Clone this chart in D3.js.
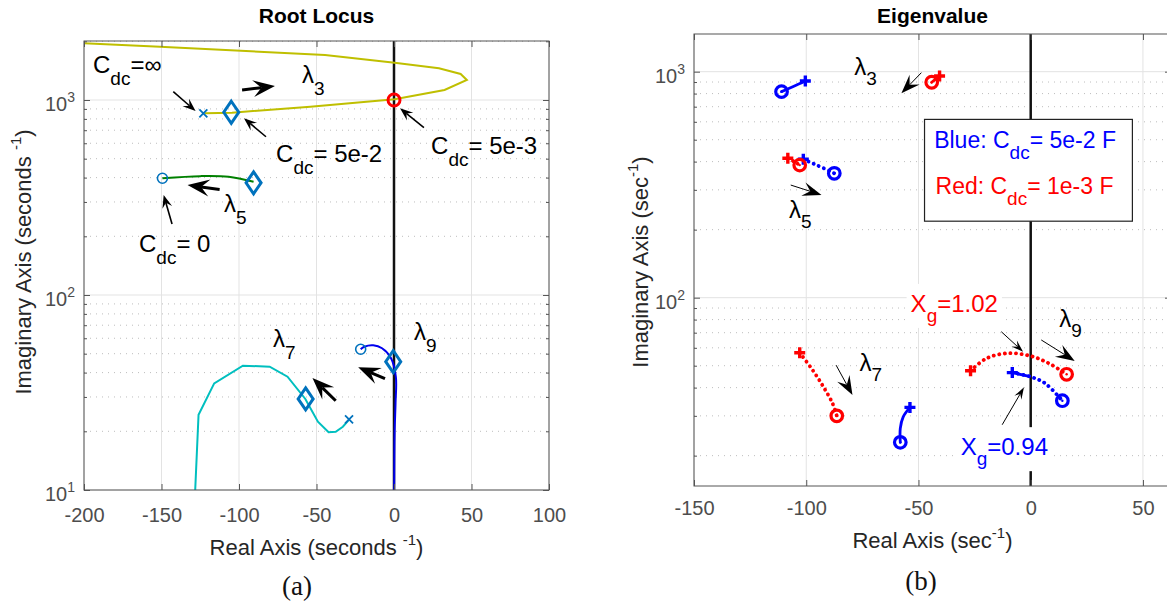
<!doctype html>
<html>
<head>
<meta charset="utf-8">
<script src="https://cdn.jsdelivr.net/npm/d3@7"></script>
<style>
body { margin: 0; background: #fff; }
svg text { white-space: pre; }
</style>
</head>
<body>
<script>

// ---------- panel (a): root locus, points are [real, imag]
var xTicksA = [-200, -150, -100, -50, 0, 50, 100];
var yDecadesA = [10, 100, 1000];
var locus3 = [[-200, 1954], [-151, 1876], [-44.5, 1702], [0.4, 1553], [29, 1453], [43, 1360], [47, 1267],
              [32.6, 1125], [0.4, 1008], [-54, 924], [-104.5, 861], [-122, 855]];
var locus5 = [[-149.4, 397], [-125, 407], [-106.7, 404], [-90.6, 381]];
var locus7 = [[-128.8, 8], [-126.1, 24.3], [-116, 35.2], [-97.5, 43.4], [-80.2, 42.9], [-68.7, 38.1],
              [-57.2, 29.3], [-49.1, 22.4], [-42.2, 19.8], [-37.6, 19.9], [-33, 21.1], [-29.1, 22.9]];
var locus9 = [[-21.5, 52.7], [-19.1, 54.3], [-13.4, 55.2], [-7.7, 53.3], [-1.9, 47.4], [1.2, 38],
              [1.0, 28], [0.4, 19.6], [0.1, 8]];
var polesA = [[-123, 855], [-29, 23]];            // x markers
var zerosA = [[-149.4, 397], [-21.5, 52.7]];      // o markers
var designA = [[-105, 865], [-90.6, 376], [-57, 29.3], [-0.5, 45.5]];  // diamonds
var critA = [[0, 1000]];                          // red circle
var arrowsA = [
  {from: [-142.4, 1103], to: [-128, 878], big: false},
  {from: [-98, 1125], to: [-76.8, 1180], big: true},
  {from: [-82.6, 648], to: [-96.8, 806], big: false},
  {from: [19.3, 721], to: [3.9, 906], big: false},
  {from: [-112.5, 348], to: [-133.2, 366], big: true},
  {from: [-143.2, 231], to: [-148.6, 326], big: false},
  {from: [-37.6, 28.7], to: [-52.6, 37.5], big: true},
  {from: [-5.8, 37.2], to: [-23.1, 42.6], big: true}
];
var labelsA = [
  {at: [-194.2, 1375], parts: [["C", 0], ["dc", -1], ["=\u221e", 0]]},
  {at: [-59.4, 1222], parts: [["\u03bb", 0], ["3", -1]]},
  {at: [-76.1, 481], parts: [["C", 0], ["dc", -1], ["= 5e-2", 0]]},
  {at: [23.9, 528], parts: [["C", 0], ["dc", -1], ["= 5e-3", 0]]},
  {at: [-109.7, 267], parts: [["\u03bb", 0], ["5", -1]]},
  {at: [-164.5, 166], parts: [["C", 0], ["dc", -1], ["= 0", 0]]},
  {at: [-78.1, 54], parts: [["\u03bb", 0], ["7", -1]]},
  {at: [12.9, 58.7], parts: [["\u03bb", 0], ["9", -1]]}
];

// ---------- panel (b): eigenvalues, each branch goes from + to o
var xTicksB = [-150, -100, -50, 0, 50];
var yDecadesB = [100, 1000];
var blue3 = [[-100.4, 910], [-105.5, 862], [-111, 816]];
var red3 = [[-40.6, 957], [-42.5, 925], [-44.1, 898]];
var blue5 = [[-101.3, 410], [-95, 385], [-87.5, 355]];
var red5 = [[-108.2, 414], [-105, 398], [-102.9, 386]];
var blue7 = [[-53.8, 32.7], [-56.8, 29.7], [-58.1, 26.4], [-58.1, 22.9]];
var red7 = [[-102.9, 57.1], [-97.2, 47.9], [-92.4, 40.4], [-88.3, 34.1], [-86.4, 30]];
var blue9 = [[-8.2, 46.6], [-0.1, 44.7], [6.4, 41.8], [14.1, 35]];
var red9 = [[-26.8, 47.5], [-19.5, 54], [-9.8, 56.8], [-0.1, 55.2], [8, 51.3], [16, 45.8]];
var arrowsB = [
  {from: [-48.7, 990], to: [-57.6, 802], size: "mid"},
  {from: [-106.9, 315], to: [-93.2, 285], size: "mid"},
  {from: [-86.7, 50.3], to: [-79.4, 37.1], size: "mid"},
  {from: [-13.1, 70.7], to: [-3.4, 57.7], size: "small"},
  {from: [4.7, 65], to: [19.6, 52.5], size: "mid"},
  {from: [-12.7, 27.4], to: [-3, 40.1], size: "small"}
];
var labelsB = [
  {at: [-78.6, 967], parts: [["\u03bb", 0], ["3", -1]], color: "#000"},
  {at: [-107.7, 225], parts: [["\u03bb", 0], ["5", -1]], color: "#000"},
  {at: [-76.3, 47.4], parts: [["\u03bb", 0], ["7", -1]], color: "#000"},
  {at: [12.7, 74.1], parts: [["\u03bb", 0], ["9", -1]], color: "#000"},
  {at: [-53.5, 86.5], parts: [["X", 0], ["g", -1], ["=1.02", 0]], color: "#ff0000", box: true},
  {at: [-31.2, 20.1], parts: [["X", 0], ["g", -1], ["=0.94", 0]], color: "#0000ff", box: true}
];
var legendBox = [[-47.3, 615], [45.3, 218]];
var legendLines = [
  {at: [-43, 459], parts: [["Blue: C", 0], ["dc", -1], ["= 5e-2 F", 0]], color: "#0000ff"},
  {at: [-42.4, 287], parts: [["Red: C", 0], ["dc", -1], ["= 1e-3 F", 0]], color: "#ff0000"}
];

// ---------- page
var W = 1167, H = 605;
var svg = d3.select("body").append("svg")
  .attr("width", W).attr("height", H)
  .style("font-family", '"Liberation Sans", Arial, Helvetica, sans-serif');

var pA = {name: "a", left: 84, right: 549, top: 41, bottom: 490, xdom: [-200, 100], ydom: [10, 2007],
          xticks: xTicksA, decades: yDecadesA, title: "Root Locus", unit: "seconds ", tickBase: 32,
          xlabY: 555, ylabX: 31, capX: 297, capY: 595, cap: "(a)"};
var pB = {name: "b", left: 694, right: 1171, top: 34, bottom: 486, xdom: [-150, 62.5], ydom: [14.68, 1468],
          xticks: xTicksB, decades: yDecadesB, title: "Eigenvalue", unit: "sec", tickBase: 29,
          xlabY: 548, ylabX: 648, capX: 921, capY: 590, cap: "(b)"};

// tex-like text: parts = [[string, 0 normal | -1 subscript | 1 superscript]]
function tex(g, x, y, parts, o) {
  var t = g.append("text").attr("x", x).attr("y", y)
    .attr("font-size", o.size).attr("fill", o.color || "#000");
  if (o.anchor) t.attr("text-anchor", o.anchor);
  if (o.weight) t.attr("font-weight", o.weight);
  var cur = 0;
  parts.forEach(function(p) {
    var shift = p[1] == -1 ? o.sub : p[1] == 1 ? -o.sup : 0;
    t.append("tspan").attr("dy", shift - cur)
      .attr("font-size", p[1] ? o.small : o.size).text(p[0]);
    cur = shift;
  });
  return t;
}

function arrow(g, x0, y0, x1, y1, s) {
  var dx = x1 - x0, dy = y1 - y0, len = Math.hypot(dx, dy);
  var ux = dx / len, uy = dy / len, nx = -uy, ny = ux;
  var bx = x1 - ux * s.hl, by = y1 - uy * s.hl;
  var mx = x1 - ux * s.hl * 0.62, my = y1 - uy * s.hl * 0.62;
  g.append("line").attr("x1", x0).attr("y1", y0).attr("x2", mx).attr("y2", my)
    .attr("stroke", "#000").attr("stroke-width", s.lw);
  g.append("path")
    .attr("d", "M" + x1 + "," + y1 + "L" + (bx + nx * s.hw / 2) + "," + (by + ny * s.hw / 2) +
               "L" + mx + "," + my + "L" + (bx - nx * s.hw / 2) + "," + (by - ny * s.hw / 2) + "Z")
    .attr("fill", "#000");
}

function setup(p) {
  p.x = d3.scaleLinear().domain(p.xdom).range([p.left, p.right]);
  p.y = d3.scaleLog().domain(p.ydom).range([p.bottom, p.top]);
  p.g = svg.append("g");
  svg.append("clipPath").attr("id", "clip" + p.name).append("rect")
    .attr("x", p.left).attr("y", p.top).attr("width", p.right - p.left).attr("height", p.bottom - p.top);
  p.minor = p.y.ticks().filter(function(v) {
    return p.decades.indexOf(v) < 0 && v > p.ydom[0] && v < p.ydom[1];
  });

  var grid = p.g.append("g");
  grid.selectAll(".vg").data(p.xticks).join("line")
    .attr("x1", d => p.x(d)).attr("x2", d => p.x(d)).attr("y1", p.top).attr("y2", p.bottom)
    .attr("stroke", "#e3e3e3").attr("stroke-width", 1);
  grid.selectAll(".mg").data(p.minor).join("line")
    .attr("x1", p.left).attr("x2", p.right).attr("y1", d => p.y(d)).attr("y2", d => p.y(d))
    .attr("stroke", "#bdbdbd").attr("stroke-width", 1).attr("stroke-dasharray", "1,5");
  grid.selectAll(".hg").data(p.decades).join("line")
    .attr("x1", p.left).attr("x2", p.right).attr("y1", d => p.y(d)).attr("y2", d => p.y(d))
    .attr("stroke", "#e3e3e3").attr("stroke-width", 1);

  p.data = p.g.append("g").attr("clip-path", "url(#clip" + p.name + ")");
}

function frame(p) {
  var g = p.g.append("g").attr("color", "#555");
  var ax = function(a) { return a.tickSizeOuter(0); };
  g.append("g").attr("transform", "translate(0," + p.bottom + ")")
    .call(ax(d3.axisBottom(p.x).tickValues(p.xticks).tickSizeInner(-6).tickPadding(p.tickBase - 14)
      .tickFormat(d => String(d))))
    .call(s => s.select(".domain").remove())
    .selectAll("text").attr("font-size", 20).attr("fill", "#4d4d4d").attr("font-family", null);
  g.append("g").attr("transform", "translate(0," + p.top + ")")
    .call(ax(d3.axisTop(p.x).tickValues(p.xticks).tickSizeInner(-6).tickFormat("")))
    .call(s => s.select(".domain").remove());
  [[d3.axisLeft, p.left], [d3.axisRight, p.right]].forEach(function(a) {
    g.append("g").attr("transform", "translate(" + a[1] + ",0)")
      .call(ax(a[0](p.y).tickValues(p.decades).tickSizeInner(-6).tickFormat("")))
      .call(s => s.select(".domain").remove());
    g.append("g").attr("transform", "translate(" + a[1] + ",0)")
      .call(ax(a[0](p.y).tickValues(p.minor).tickSizeInner(-3).tickFormat("")))
      .call(s => s.select(".domain").remove());
  });
  g.append("rect").attr("x", p.left).attr("y", p.top)
    .attr("width", p.right - p.left).attr("height", p.bottom - p.top)
    .attr("fill", "none").attr("stroke", "#555").attr("stroke-width", 1);

  // log tick labels 10^n
  p.decades.forEach(function(v) {
    tex(p.g, p.left - 9, p.y(v) + 11, [["10", 0], [String(Math.round(Math.log10(v))), 1]],
        {size: 20, small: 14, sup: 9, color: "#4d4d4d", anchor: "end"});
  });

  // title, axis labels, caption
  var cx = (p.left + Math.min(p.right, 1171)) / 2;
  tex(p.g, cx, 23, [[p.title, 0]], {size: 21, anchor: "middle", weight: "bold", color: "#000"});
  tex(p.g, cx, p.xlabY, [["Real Axis (" + p.unit, 0], ["-1", 1], [")", 0]],
      {size: 22, small: 15, sup: 10, anchor: "middle", color: "#262626"});
  var yl = p.g.append("g").attr("transform", "translate(" + p.ylabX + "," + 262 + ") rotate(-90)");
  tex(yl, 0, 0, [["Imaginary Axis (" + p.unit, 0], ["-1", 1], [")", 0]],
      {size: 22, small: 15, sup: 10, anchor: "middle", color: "#262626"});
  svg.append("text").attr("x", p.capX).attr("y", p.capY).attr("text-anchor", "middle")
    .attr("font-family", '"Liberation Serif", "DejaVu Serif", serif').attr("font-size", 27)
    .attr("fill", "#111").text(p.cap);
}

function zeroLine(p, w) {
  p.data.append("line").attr("x1", p.x(0)).attr("x2", p.x(0)).attr("y1", p.top).attr("y2", p.bottom)
    .attr("stroke", "#111").attr("stroke-width", w);
}

function diamond(g, pts, p) {
  g.selectAll(null).data(pts).join("path")
    .attr("d", d => { var x = p.x(d[0]), y = p.y(d[1]);
      return "M" + x + "," + (y - 11) + "L" + (x + 7.5) + "," + y + "L" + x + "," + (y + 11) + "L" + (x - 7.5) + "," + y + "Z"; })
    .attr("fill", "none").attr("stroke", "#0072bd").attr("stroke-width", 3);
}

function cross(g, pts, p, color, r, w) {
  g.selectAll(null).data(pts).join("path")
    .attr("d", d => { var x = p.x(d[0]), y = p.y(d[1]);
      return "M" + (x - r) + "," + (y - r) + "L" + (x + r) + "," + (y + r) + "M" + (x - r) + "," + (y + r) + "L" + (x + r) + "," + (y - r); })
    .attr("stroke", color).attr("stroke-width", w).attr("fill", "none");
}

function plus(g, pts, p, color) {
  g.selectAll(null).data(pts).join("path")
    .attr("d", d => { var x = p.x(d[0]), y = p.y(d[1]);
      return "M" + (x - 5.5) + "," + y + "L" + (x + 5.5) + "," + y + "M" + x + "," + (y - 5.5) + "L" + x + "," + (y + 5.5); })
    .attr("stroke", color).attr("stroke-width", 3.4).attr("fill", "none");
}

function ring(g, pts, p, color, r, w, dot) {
  g.selectAll(null).data(pts).join("circle")
    .attr("cx", d => p.x(d[0])).attr("cy", d => p.y(d[1])).attr("r", r)
    .attr("fill", "none").attr("stroke", color).attr("stroke-width", w);
  if (dot) g.selectAll(null).data(pts).join("circle")
    .attr("cx", d => p.x(d[0])).attr("cy", d => p.y(d[1])).attr("r", 1.2).attr("fill", color);
}

// ================= panel (a)
setup(pA);
zeroLine(pA, 2.5);
var lineA = d3.line().x(d => pA.x(d[0])).y(d => pA.y(d[1]));
var smoothA = d3.line().x(d => pA.x(d[0])).y(d => pA.y(d[1])).curve(d3.curveCatmullRom);
[[locus3, "#bfbf00", lineA], [locus5, "#008000", smoothA], [locus7, "#00bfbf", lineA], [locus9, "#0000ee", smoothA]]
  .forEach(function(s) {
    pA.data.append("path").datum(s[0]).attr("d", s[2]).attr("fill", "none")
      .attr("stroke", s[1]).attr("stroke-width", 2);
  });
var mA = pA.g.append("g");
cross(mA, polesA, pA, "#0072bd", 4, 1.8);
ring(mA, zerosA, pA, "#0072bd", 5, 1.6, false);
diamond(mA, designA, pA);
ring(mA, critA, pA, "#ff0000", 6, 3, false);
frame(pA);
var annA = svg.append("g");
arrowsA.forEach(function(a) {
  arrow(annA, pA.x(a.from[0]), pA.y(a.from[1]), pA.x(a.to[0]), pA.y(a.to[1]),
        a.big ? {lw: 3, hl: 22, hw: 17} : {lw: 1.6, hl: 13, hw: 10});
});
labelsA.forEach(function(l) {
  tex(annA, pA.x(l.at[0]), pA.y(l.at[1]), l.parts, {size: 24, small: 19, sub: 12, color: "#000"});
});

// ================= panel (b)
setup(pB);
zeroLine(pB, 2.5);
var lineB = d3.line().x(d => pB.x(d[0])).y(d => pB.y(d[1])).curve(d3.curveCatmullRom);
var branches = [
  [blue3, "#0000ff", false], [red3, "#ff0000", false], [blue5, "#0000ff", true], [red5, "#ff0000", true],
  [blue7, "#0000ff", false], [red7, "#ff0000", true], [blue9, "#0000ff", true], [red9, "#ff0000", true]
];
branches.forEach(function(b) {
  var path = pB.data.append("path").datum(b[0]).attr("d", lineB).attr("fill", "none")
    .attr("stroke", b[1]).attr("stroke-linecap", "round");
  if (b[2]) path.attr("stroke-width", 3.8).attr("stroke-dasharray", "0.1,5.5");
  else path.attr("stroke-width", 2.8);
});
// solid start of blue lambda9
pB.data.append("path").datum(blue9.slice(0, 2)).attr("d", lineB).attr("fill", "none")
  .attr("stroke", "#0000ff").attr("stroke-width", 2.8);
var mB = pB.g.append("g");
branches.forEach(function(b) {
  plus(mB, [b[0][0]], pB, b[1]);
  ring(mB, [b[0][b[0].length - 1]], pB, b[1], 5.8, 3.2, true);
});
frame(pB);

var annB = svg.append("g");
// legend box
annB.append("rect")
  .attr("x", pB.x(legendBox[0][0])).attr("y", pB.y(legendBox[0][1]))
  .attr("width", pB.x(legendBox[1][0]) - pB.x(legendBox[0][0]))
  .attr("height", pB.y(legendBox[1][1]) - pB.y(legendBox[0][1]))
  .attr("fill", "#fff").attr("stroke", "#222").attr("stroke-width", 1.2);
legendLines.forEach(function(l) {
  tex(annB, pB.x(l.at[0]), pB.y(l.at[1]), l.parts, {size: 23, small: 19, sub: 11, color: l.color});
});
labelsB.forEach(function(l) {
  var t = tex(annB, pB.x(l.at[0]), pB.y(l.at[1]), l.parts, {size: 24, small: 19, sub: 10, color: l.color});
  if (l.box) {
    var bb = t.node().getBBox();
    annB.insert("rect", function() { return t.node(); })
      .attr("x", bb.x - 4).attr("y", bb.y - 6).attr("width", bb.width + 8).attr("height", bb.height + 8)
      .attr("fill", "#fff");
  }
});
arrowsB.forEach(function(a) {
  arrow(annB, pB.x(a.from[0]), pB.y(a.from[1]), pB.x(a.to[0]), pB.y(a.to[1]),
        a.size == "mid" ? {lw: 1, hl: 19, hw: 14} : {lw: 1, hl: 12, hw: 8});
});

</script>
</body>
</html>
